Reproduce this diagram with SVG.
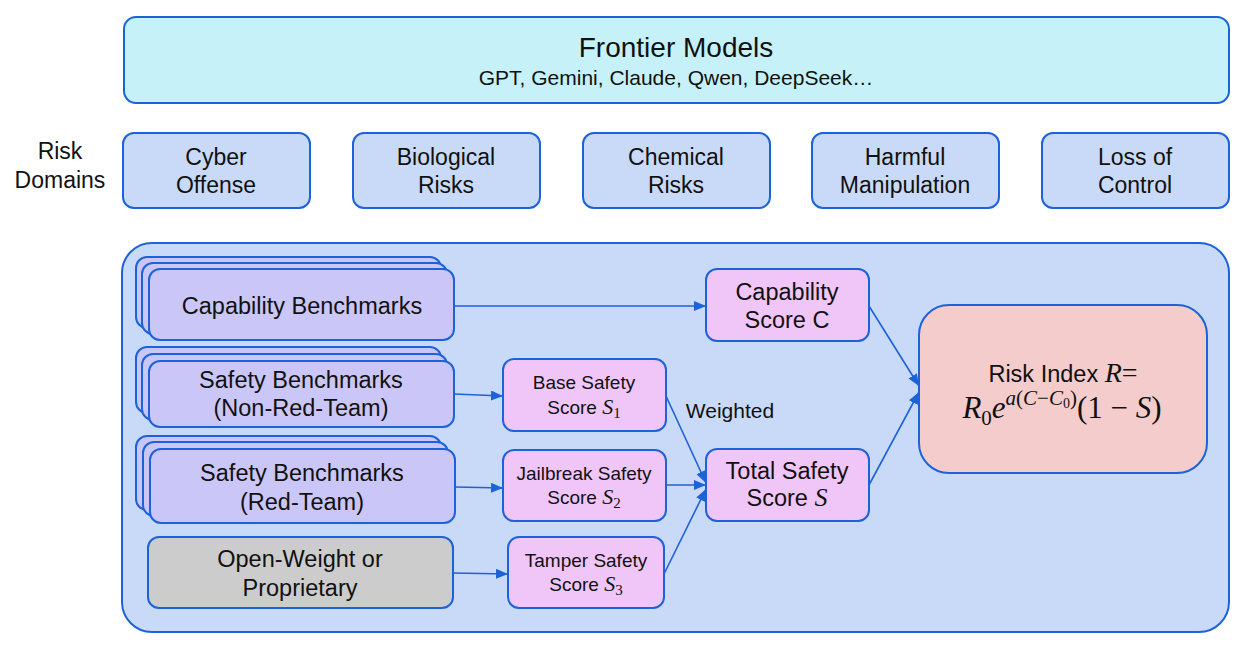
<svg xmlns="http://www.w3.org/2000/svg" width="1245" height="648" viewBox="0 0 1245 648">
<defs>
<style>
.t{font-family:"Liberation Sans",Arial,sans-serif;fill:#111;text-anchor:middle}
.m{font-family:"Liberation Serif","DejaVu Serif",serif}
.i{font-style:italic}
.b{stroke:#1c62d8;stroke-width:2}
.dom{fill:#c9daf8}
.bench{fill:#cbc6f8}
.score{fill:#f0c6f8}
.con path{fill:none;stroke:#1c62d8;stroke-width:1.6}
</style>
<marker id="ah" viewBox="0 0 12 10" refX="12" refY="5" markerWidth="12" markerHeight="10" markerUnits="userSpaceOnUse" orient="auto">
<path d="M0,0 L12,5 L0,10 Z" fill="#1c62d8"/>
</marker>
</defs>
<rect width="1245" height="648" fill="#ffffff"/>

<g id="frontier">
<rect class="b" x="124" y="17" width="1105" height="86" rx="12" fill="#c7f1f8"/>
<text class="t" x="676" y="57" font-size="28">Frontier Models</text>
<text class="t" x="676" y="85" font-size="21">GPT, Gemini, Claude, Qwen, DeepSeek…</text>
</g>

<g id="risk-domains-label">
<text class="t" x="60" y="159" font-size="23">Risk</text>
<text class="t" x="60" y="188" font-size="23">Domains</text>
</g>

<g id="cyber"><rect class="b dom" x="123" y="133" width="187" height="75" rx="11"/>
<text class="t" x="216" y="165" font-size="23">Cyber</text><text class="t" x="216" y="193" font-size="23">Offense</text></g>
<g id="bio"><rect class="b dom" x="353" y="133" width="187" height="75" rx="11"/>
<text class="t" x="446" y="165" font-size="23">Biological</text><text class="t" x="446" y="193" font-size="23">Risks</text></g>
<g id="chem"><rect class="b dom" x="583" y="133" width="187" height="75" rx="11"/>
<text class="t" x="676" y="165" font-size="23">Chemical</text><text class="t" x="676" y="193" font-size="23">Risks</text></g>
<g id="harm"><rect class="b dom" x="812" y="133" width="187" height="75" rx="11"/>
<text class="t" x="905" y="165" font-size="23">Harmful</text><text class="t" x="905" y="193" font-size="23">Manipulation</text></g>
<g id="loss"><rect class="b dom" x="1042" y="133" width="187" height="75" rx="11"/>
<text class="t" x="1135" y="165" font-size="23">Loss of</text><text class="t" x="1135" y="193" font-size="23">Control</text></g>

<g id="container"><rect class="b dom" x="122" y="243" width="1107" height="389" rx="30"/></g>

<g id="capability-benchmarks">
<rect class="b bench" x="136" y="257" width="305" height="71" rx="11"/>
<rect class="b bench" x="142" y="263" width="305" height="71" rx="11"/>
<rect class="b bench" x="149" y="269" width="305" height="71" rx="11"/>
<text class="t" x="302" y="314" font-size="23.5">Capability Benchmarks</text>
</g>
<g id="safety-nonred">
<rect class="b bench" x="136" y="347" width="305" height="66" rx="11"/>
<rect class="b bench" x="142" y="354" width="305" height="66" rx="11"/>
<rect class="b bench" x="149" y="361" width="305" height="66" rx="11"/>
<text class="t" x="301" y="388" font-size="23.5">Safety Benchmarks</text>
<text class="t" x="301" y="416" font-size="23.5">(Non-Red-Team)</text>
</g>
<g id="safety-red">
<rect class="b bench" x="136" y="436" width="305" height="74" rx="11"/>
<rect class="b bench" x="143" y="442" width="305" height="74" rx="11"/>
<rect class="b bench" x="150" y="449" width="305" height="74" rx="11"/>
<text class="t" x="302" y="481" font-size="23.5">Safety Benchmarks</text>
<text class="t" x="302" y="510" font-size="23.5">(Red-Team)</text>
</g>
<g id="open-weight">
<rect class="b" x="148" y="537" width="305" height="71" rx="11" fill="#cccccc"/>
<text class="t" x="300" y="567" font-size="23.5">Open-Weight or</text>
<text class="t" x="300" y="596" font-size="23.5">Proprietary</text>
</g>

<g id="capability-score">
<rect class="b score" x="706" y="269" width="163" height="72" rx="11"/>
<text class="t" x="787" y="300" font-size="23.5">Capability</text>
<text class="t" x="787" y="328" font-size="23.5">Score C</text>
</g>
<g id="base-safety">
<rect class="b score" x="503" y="359" width="163" height="72" rx="11"/>
<text class="t" x="584" y="389" font-size="19">Base Safety</text>
<text class="t" x="584" y="414" font-size="19">Score <tspan class="m i" font-size="22">S</tspan><tspan class="m" font-size="15" dy="4">1</tspan></text>
</g>
<g id="jailbreak-safety">
<rect class="b score" x="503" y="450" width="163" height="71" rx="11"/>
<text class="t" x="584" y="480" font-size="19">Jailbreak Safety</text>
<text class="t" x="584" y="504" font-size="19">Score <tspan class="m i" font-size="22">S</tspan><tspan class="m" font-size="15" dy="4">2</tspan></text>
</g>
<g id="tamper-safety">
<rect class="b score" x="508" y="537" width="156" height="71" rx="11"/>
<text class="t" x="586" y="567" font-size="19">Tamper Safety</text>
<text class="t" x="586" y="591" font-size="19">Score <tspan class="m i" font-size="22">S</tspan><tspan class="m" font-size="15" dy="4">3</tspan></text>
</g>
<g id="total-safety">
<rect class="b score" x="706" y="449" width="163" height="72" rx="11"/>
<text class="t" x="787" y="479" font-size="23.5">Total Safety</text>
<text class="t" x="787" y="506" font-size="23.5">Score <tspan class="m i" font-size="26">S</tspan></text>
</g>
<g id="risk-index">
<rect class="b" x="919" y="305" width="288" height="168" rx="30" fill="#f4cccc"/>
<text class="t" x="1063" y="382" font-size="23.5">Risk Index <tspan class="m i" font-size="28">R</tspan><tspan class="m" font-size="28">=</tspan></text>
<text class="t m" x="1062" y="418" font-size="31"><tspan class="i">R</tspan><tspan font-size="21" dy="7">0</tspan><tspan class="i" dy="-7">e</tspan><tspan class="i" font-size="21" dy="-13">a</tspan><tspan font-size="21">(</tspan><tspan class="i" font-size="21">C</tspan><tspan font-size="21">−</tspan><tspan class="i" font-size="21">C</tspan><tspan font-size="14" dy="3">0</tspan><tspan font-size="21" dy="-3">)</tspan><tspan dy="13">(1 − </tspan><tspan class="i">S</tspan><tspan>)</tspan></text>
</g>

<g id="weighted-label"><text class="t" x="730" y="418" font-size="21">Weighted</text></g>

<g id="connectors" class="con">
<path d="M454,306 L706,306" marker-end="url(#ah)"/>
<path d="M454,394 L503,396" marker-end="url(#ah)"/>
<path d="M455,487 L503,488" marker-end="url(#ah)"/>
<path d="M453,573 L508,574" marker-end="url(#ah)"/>
<path d="M666,396 L706,483" marker-end="url(#ah)"/>
<path d="M666,485 L706,485" marker-end="url(#ah)"/>
<path d="M664,574 L706,489" marker-end="url(#ah)"/>
<path d="M869,306 L919,386" marker-end="url(#ah)"/>
<path d="M869,485 L919,392" marker-end="url(#ah)"/>
</g>
</svg>
